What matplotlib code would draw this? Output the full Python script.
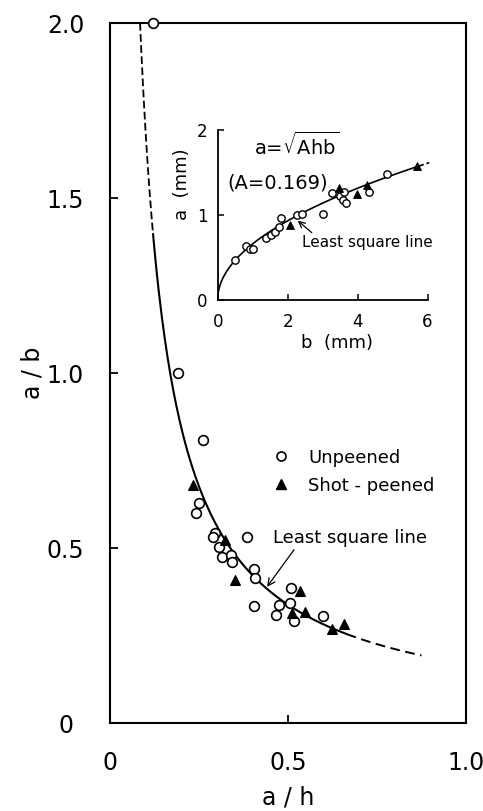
import numpy as np
import matplotlib
matplotlib.use("Agg")
import matplotlib.pyplot as plt
from matplotlib.lines import Line2D

plt.rcParams['font.family'] = ['DejaVu Sans']
plt.rcParams['mathtext.default'] = 'regular'
plt.rcParams['lines.scale_dashes'] = False

# fitted constant and plate thickness (mm) for the inset curve
A = 0.169
h_mm = 2.55

# main plot: a/h vs a/b
unp_x = [0.122, 0.191, 0.260, 0.250, 0.243, 0.294, 0.289, 0.307, 0.316, 0.340, 0.342, 0.384,
         0.405, 0.407, 0.404, 0.476, 0.466, 0.508, 0.507, 0.517, 0.597]
unp_y = [2.00, 1.00, 0.81, 0.628, 0.600, 0.542, 0.532, 0.502, 0.473, 0.480, 0.459, 0.532,
         0.440, 0.413, 0.334, 0.336, 0.309, 0.385, 0.343, 0.292, 0.306]
sp_x = [0.233, 0.322, 0.351, 0.533, 0.512, 0.547, 0.624, 0.656]
sp_y = [0.680, 0.523, 0.410, 0.377, 0.315, 0.318, 0.268, 0.284]

# inset: b (mm) vs a (mm)
unp_b = [0.50, 0.80, 0.92, 1.00, 1.37, 1.52, 1.64, 1.74, 1.82, 2.26, 2.40, 3.00,
         3.28, 3.50, 3.58, 3.66, 3.62, 4.32, 4.85]
unp_a = [0.47, 0.63, 0.60, 0.60, 0.73, 0.76, 0.80, 0.86, 0.96, 1.00, 1.01, 1.01,
         1.26, 1.22, 1.17, 1.14, 1.27, 1.27, 1.48]
sp_b = [2.08, 3.47, 3.98, 4.26, 5.70]
sp_a = [0.88, 1.32, 1.25, 1.35, 1.58]

fig = plt.figure(figsize=(4.83, 8.11), dpi=100)

# ---------- main axes ----------
ax = fig.add_axes([0.2277, 0.1085, 0.7371, 0.8631])
ax.set_xlim(0, 1.0)
ax.set_ylim(0, 2.0)

x1 = np.linspace(A / 2.0, 0.121, 50)
x2 = np.linspace(0.121, 0.665, 200)
x3 = np.linspace(0.665, 0.875, 50)
ax.plot(x1, A / x1, color='black', lw=1.3, ls=(0, (5.5, 2.5)), clip_on=False)
ax.plot(x2, A / x2, color='black', lw=1.5)
ax.plot(x3, A / x3, color='black', lw=1.4, ls=(0, (7, 4)))

ax.plot(unp_x, unp_y, 'o', mfc='white', mec='black', ms=7, mew=1.2, clip_on=False, zorder=3)
ax.plot(sp_x, sp_y, '^', mfc='black', mec='black', ms=6.5, mew=0.8, clip_on=False, zorder=3)

for s in ax.spines.values():
    s.set_linewidth(1.5)
ax.set_xticks([0, 0.5, 1.0])
ax.set_xticklabels(['0', '0.5', '1.0'])
ax.set_yticks([0, 0.5, 1.0, 1.5, 2.0])
ax.set_yticklabels(['0', '0.5', '1.0', '1.5', '2.0'])
ax.tick_params(direction='in', length=6, width=1.3, labelsize=17)
ax.tick_params(axis='x', pad=29)
ax.tick_params(axis='y', pad=32)
for t in ax.get_xticklabels():
    t.set_va('center')
for t in ax.get_yticklabels():
    t.set_ha('center')

ax.set_xlabel('a / h', fontsize=17)
ax.xaxis.set_label_coords(0.5, -0.106)
ax.xaxis.label.set_va('center')
ax.set_ylabel('a / b', fontsize=17)
ax.yaxis.set_label_coords(-0.219, 0.5)
ax.yaxis.label.set_va('center')

handles = [Line2D([], [], ls='none', marker='o', mfc='white', mec='black', ms=6.5, mew=1.2),
           Line2D([], [], ls='none', marker='^', mfc='black', mec='black', ms=6.5)]
ax.legend(handles, ['Unpeened', 'Shot - peened'], loc='upper left',
          bbox_to_anchor=(0.455, 0.392), frameon=False, fontsize=13,
          handlelength=1.0, handletextpad=1.0, borderpad=0, borderaxespad=0,
          labelspacing=0.55)

ax.annotate('Least square line', xy=(0.441, 0.389), xytext=(0.458, 0.529),
            fontsize=13, va='center', ha='left',
            arrowprops=dict(arrowstyle='->', color='black', lw=0.9,
                            shrinkA=0, shrinkB=0, relpos=(0.15, 0.0)))

# ---------- inset ----------
ai = fig.add_axes([0.4507, 0.6307, 0.4344, 0.2090])
ai.set_facecolor('none')
ai.set_xlim(0, 6)
ai.set_ylim(0, 2)
for side in ['top', 'right']:
    ai.spines[side].set_visible(False)
for side in ['left', 'bottom']:
    ai.spines[side].set_linewidth(1.3)

b1 = np.linspace(0, 5.78, 300)
b2 = np.linspace(5.78, 6.05, 10)
ai.plot(b1, np.sqrt(A * h_mm * b1), color='black', lw=1.2)
ai.plot(b2, np.sqrt(A * h_mm * b2), color='black', lw=1.2, ls=(0, (3, 2)), clip_on=False)

ai.plot(unp_b, unp_a, 'o', mfc='white', mec='black', ms=5.3, mew=1.0, clip_on=False, zorder=3)
ai.plot(sp_b, sp_a, '^', mfc='black', mec='black', ms=5.3, mew=0.6, clip_on=False, zorder=3)

ai.set_xticks([0, 2, 4, 6])
ai.set_yticks([0, 1, 2])
ai.tick_params(direction='in', length=4, width=1.1, labelsize=12)
ai.tick_params(axis='x', pad=16)
ai.tick_params(axis='y', pad=11)
for t in ai.get_xticklabels():
    t.set_va('center')
for t in ai.get_yticklabels():
    t.set_ha('center')

ai.set_xlabel('b  (mm)', fontsize=13)
ai.xaxis.set_label_coords(0.569, -0.257)
ai.xaxis.label.set_va('center')
ai.set_ylabel('a  (mm)', fontsize=13)
ai.yaxis.set_label_coords(-0.170, 0.681)
ai.yaxis.label.set_va('center')

ai.text(2.27, 1.82, r'a=$\sqrt{\mathrm{Ahb}}$', fontsize=14, ha='center', va='center')
ai.text(0.29, 1.38, '(A=0.169)', fontsize=14, ha='left', va='center')
ai.annotate('Least square line', xy=(2.29, 0.93), xytext=(2.41, 0.667),
            fontsize=11, va='center', ha='left',
            arrowprops=dict(arrowstyle='->', color='black', lw=0.9,
                            shrinkA=0, shrinkB=0, relpos=(0.1, 1.0)))

fig.savefig('out.png', dpi=100)
